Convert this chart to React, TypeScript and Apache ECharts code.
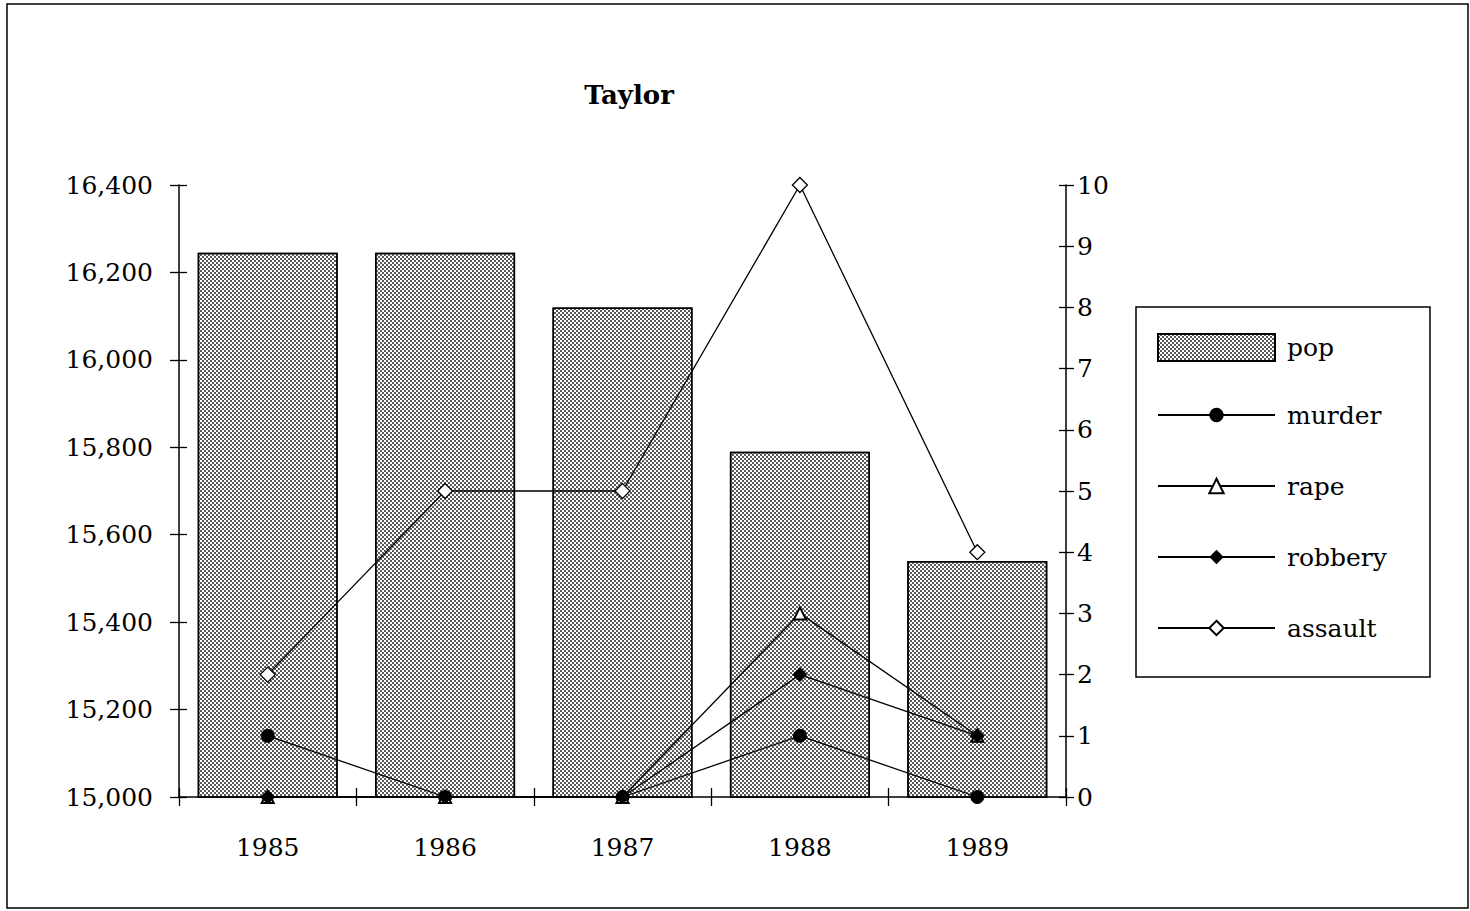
import React, { useEffect, useRef } from "react";
import * as echarts from "echarts";

const years = ["1985", "1986", "1987", "1988", "1989"];
const pop = [16245, 16245, 16120, 15790, 15540];
const murder = [1, 0, 0, 1, 0];
const rape = [0, 0, 0, 3, 1];
const robbery = [0, 0, 0, 2, 1];
const assault = [2, 5, 5, 10, 4];

const FONT = "DejaVu Serif";

export default function App() {
  const ref = useRef<HTMLDivElement>(null);
  useEffect(() => {
    const chart = echarts.init(ref.current!, null, { renderer: "svg" });
    const lineBase = {
      type: "line" as const,
      yAxisIndex: 1,
      lineStyle: { color: "#000", width: 1.3 },
      z: 5,
    };
    const legendText = { fontFamily: FONT, fontSize: 25, lineHeight: 24, color: "#000", padding: [2, 0, 0, 7] };
    chart.setOption({
      animation: false,
      backgroundColor: "#fff",
      title: {
        text: "Taylor",
        left: 624,
        top: 77,
        textAlign: "center",
        textStyle: { fontFamily: FONT, fontWeight: "bold", fontSize: 26, color: "#000" },
      },
      graphic: [
        {
          type: "rect",
          shape: { x: 7, y: 4, width: 1461, height: 904 },
          style: { fill: "none", stroke: "#000", lineWidth: 1.5 },
          silent: true,
        },
        {
          type: "rect",
          shape: { x: 1136, y: 307, width: 294, height: 370 },
          style: { fill: "#fff", stroke: "#000", lineWidth: 1.5 },
          z: -1,
          silent: true,
        },
      ],
      legend: [
        {
          data: [{ name: "pop", icon: "rect" }],
          left: 1157,
          top: 331,
          padding: 0,
          itemWidth: 117,
          itemHeight: 27,
          textStyle: { ...legendText, padding: [9, 0, 0, 7] },
        },
        {
          data: ["murder", "rape", "robbery", "assault"],
          orient: "vertical",
          left: 1157,
          top: 402,
          padding: 0,
          itemWidth: 117,
          itemHeight: 18,
          itemGap: 45,
          textStyle: legendText,
        },
      ],
      grid: { left: 179, right: 404, top: 185, bottom: 114 },
      xAxis: [
        {
          type: "category",
          data: years,
          axisLine: { lineStyle: { color: "#000", width: 1.5 } },
          axisTick: { show: true, length: 9, lineStyle: { color: "#000", width: 1.3 } },
          axisLabel: { fontFamily: FONT, fontSize: 25, color: "#000", margin: 38 },
        },
        {
          type: "category",
          data: years,
          position: "bottom",
          axisLine: { show: false },
          axisTick: { show: true, inside: true, length: 9, lineStyle: { color: "#000", width: 1.3 } },
          axisLabel: { show: false },
        },
      ],
      yAxis: [
        {
          type: "value",
          min: 15000,
          max: 16400,
          interval: 200,
          position: "left",
          splitLine: { show: false },
          axisLine: { show: true, lineStyle: { color: "#000", width: 1.5 } },
          axisTick: { show: true, length: 9, lineStyle: { color: "#000", width: 1.3 } },
          axisLabel: { fontFamily: FONT, fontSize: 25, color: "#000", margin: 26 },
        },
        {
          type: "value",
          min: 0,
          max: 10,
          interval: 1,
          position: "right",
          splitLine: { show: false },
          axisLine: { show: true, lineStyle: { color: "#000", width: 1.5 } },
          axisTick: { show: true, length: 8, lineStyle: { color: "#000", width: 1.3 } },
          axisLabel: { fontFamily: FONT, fontSize: 25, color: "#000", margin: 11 },
        },
        {
          type: "value",
          min: 15000,
          max: 16400,
          interval: 200,
          position: "left",
          splitLine: { show: false },
          axisLine: { show: false },
          axisTick: { show: true, inside: true, length: 8, lineStyle: { color: "#000", width: 1.3 } },
          axisLabel: { show: false },
        },
        {
          type: "value",
          min: 0,
          max: 10,
          interval: 1,
          position: "right",
          splitLine: { show: false },
          axisLine: { show: false },
          axisTick: { show: true, inside: true, length: 7, lineStyle: { color: "#000", width: 1.3 } },
          axisLabel: { show: false },
        },
      ],
      series: [
        {
          name: "pop",
          type: "bar",
          data: pop,
          barWidth: 140,
          itemStyle: {
            color: "#ffffff",
            borderColor: "#000",
            borderWidth: 1.5,
            decal: {
              symbol: "rect",
              symbolSize: 1,
              color: "#5a5a5a",
              dashArrayX: [[2, 2], [0, 2, 2, 0]],
              dashArrayY: [2, 0],
              rotation: 0,
            },
          },
        },
        {
          ...lineBase,
          name: "murder",
          data: murder,
          symbol: "circle",
          symbolSize: 13,
          itemStyle: { color: "#000", borderColor: "#000" },
        },
        {
          ...lineBase,
          name: "rape",
          data: rape,
          symbol: "triangle",
          symbolSize: 12,
          itemStyle: { color: "#fff", borderColor: "#000", borderWidth: 2 },
        },
        {
          ...lineBase,
          name: "robbery",
          data: robbery,
          symbol: "diamond",
          symbolSize: 14,
          itemStyle: { color: "#000", borderColor: "#000" },
        },
        {
          ...lineBase,
          name: "assault",
          data: assault,
          symbol: "diamond",
          symbolSize: 15,
          itemStyle: { color: "#fff", borderColor: "#000", borderWidth: 1.3 },
        },
      ],
    });
    return () => chart.dispose();
  }, []);
  return (
    <div
      ref={ref}
      style={{ position: "absolute", left: 0, top: 0, width: 1470, height: 911, background: "#fff" }}
    />
  );
}
